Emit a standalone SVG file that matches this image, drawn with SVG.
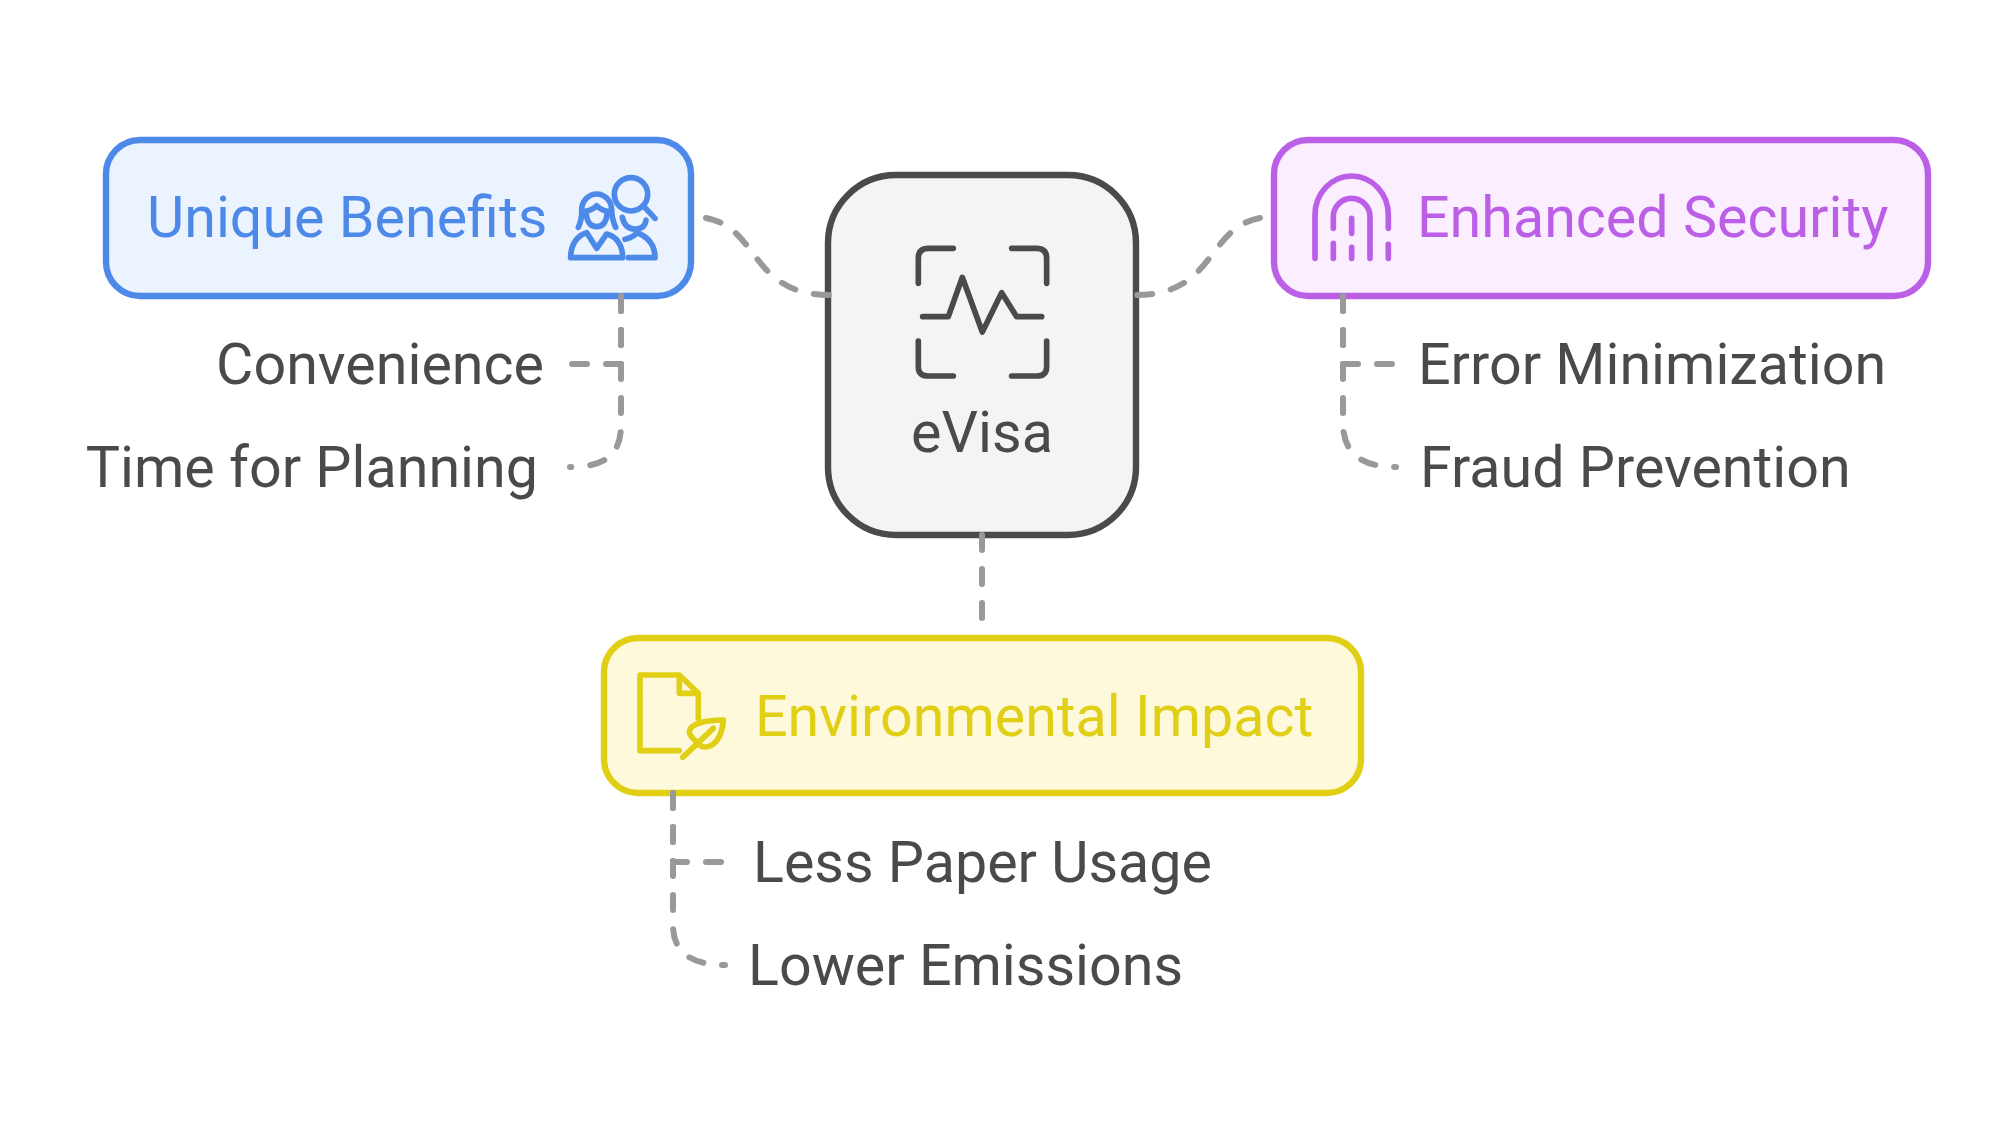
<svg xmlns="http://www.w3.org/2000/svg" width="1999" height="1141" viewBox="0 0 1999 1141">
<style>
text{font-family:Roboto,"Liberation Sans",sans-serif;font-size:57.4px;fill:#4a4a4a}
.box{stroke-width:6.4}
.ic{fill:none;stroke-width:17;stroke-linecap:round;stroke-linejoin:round}
.c{fill:none;stroke:#999;stroke-width:6;stroke-linecap:round;stroke-dasharray:15 19}
</style>
<rect width="1999" height="1141" fill="#fff"/>
<g id="node-evisa">
<rect class="box" x="828" y="175" width="308" height="360" rx="68" fill="#f4f4f4" stroke="#4a4a4a"/>
<g class="ic" stroke="#4a4a4a" transform="translate(800 160) scale(.3333)">
<path d="M355 370V295Q355 265 385 265H460M635 265H710Q740 265 740 295V370M355 543V620Q355 648 385 648H460M635 648H710Q740 648 740 620V543"/>
<path d="M368 470H445L487 352L547 516L605 398L650 470H725"/>
</g>
<text x="982" y="452" text-anchor="middle">eVisa</text>
</g>
<g id="node-benefits">
<rect class="box" x="106" y="140" width="585" height="156" rx="34" fill="#ebf3ff" stroke="#4d89e8"/>
<text x="147" y="237" style="fill:#4d89e8">Unique Benefits</text>
<g class="ic" stroke="#4d89e8" transform="translate(550 160) scale(.3333)">
<circle cx="243" cy="103" r="50"/><path d="M282 140L315 175"/>
<path d="M85 202Q97 175 95 150A45 48 0 0 1 185 150Q185 175 197 202"/>
<path d="M100 155Q125 152 140 137Q155 152 180 155M108 158Q112 200 140 200Q168 200 172 158"/>
<path d="M62 293H218C218 250 195 228 170 222L140 265L110 218C85 225 62 250 62 293Z"/>
<path d="M217 172Q225 207 255 207Q285 207 288 180M225 238Q250 232 262 218Q315 240 315 293H235"/>
</g>
</g>
<g id="node-security">
<rect class="box" x="1274" y="140" width="654" height="156" rx="34" fill="#faeeff" stroke="#bb5fe6"/>
<g class="ic" stroke="#bb5fe6" transform="translate(1300 165) scale(.3333)">
<path d="M45 280V150A110 117 0 0 1 265 150V190M100 190V155A55 55 0 0 1 210 155V280M155 160V205M100 235V280M155 247V280M265 238V280"/>
</g>
<text x="1417" y="237" style="fill:#bb5fe6">Enhanced Security</text>
</g>
<g id="node-environment">
<rect class="box" x="604" y="638" width="757" height="155" rx="34" fill="#fef9db" stroke="#e0cf15"/>
<g class="ic" stroke="#e0cf15" transform="translate(590 620) scale(.3333)">
<path d="M268 392H150V165H268L325 220V295M268 165V220H325"/>
<path d="M400 300C350 300 300 310 298 335C298 350 315 360 325 370C340 395 395 380 400 300ZM278 412L370 325"/>
</g>
<text x="755" y="736" style="fill:#e0cf15">Environmental Impact</text>
</g>
<g id="node-convenience"><text x="544" y="384" text-anchor="end">Convenience</text></g>
<g id="node-time"><text x="538" y="487" text-anchor="end">Time for Planning</text></g>
<g id="node-error"><text x="1418" y="384">Error Minimization</text></g>
<g id="node-fraud"><text x="1420" y="487">Fraud Prevention</text></g>
<g id="node-paper"><text x="753" y="882">Less Paper Usage</text></g>
<g id="node-emissions"><text x="748" y="985">Lower Emissions</text></g>
<g id="connectors">
<path class="c" d="M706 218C760 228 750 295 830 295"/>
<path class="c" d="M1260 218C1206 228 1216 295 1136 295"/>
<path class="c" d="M982 535V620"/>
<path class="c" d="M621 296V364H571"/>
<path class="c" d="M621 296V425C621 454 606 467 570 467"/>
<path class="c" d="M1343 296V364H1396"/>
<path class="c" d="M1343 296V423C1343 452 1360 467 1396 467"/>
<path class="c" d="M673 793V862H723"/>
<path class="c" d="M673 793V925C673 953 692 965 725 965"/>
</g>
</svg>
